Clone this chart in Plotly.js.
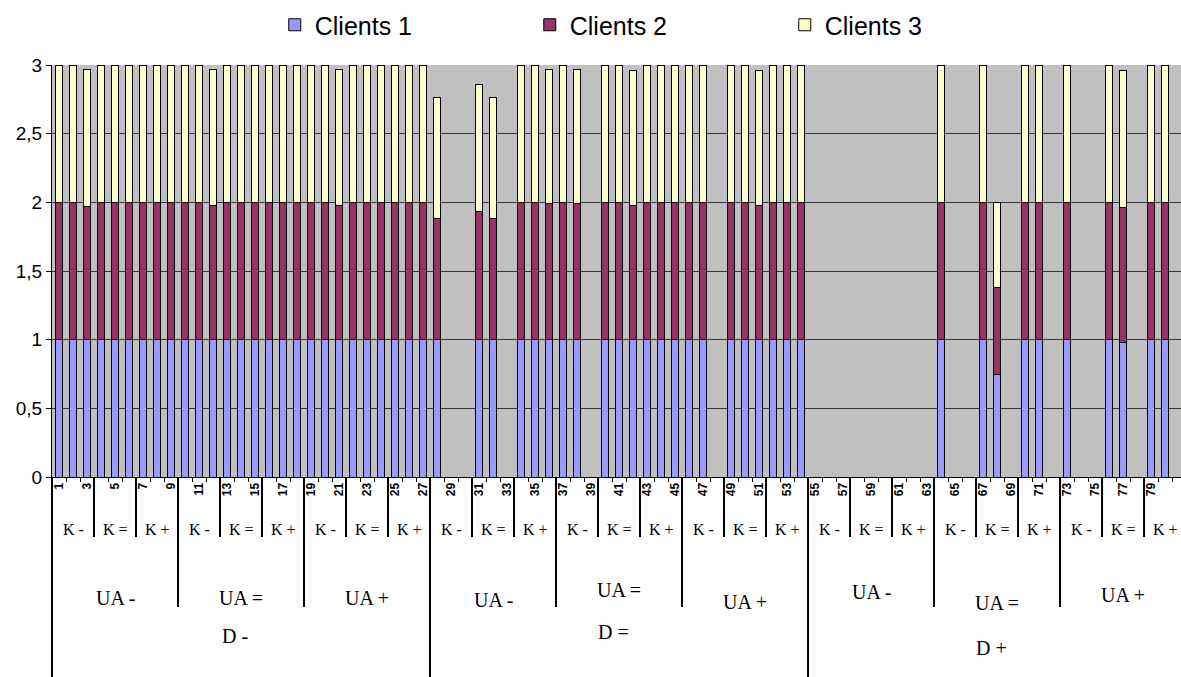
<!DOCTYPE html>
<html>
<head>
<meta charset="utf-8">
<script src="https://cdn.plot.ly/plotly-3.0.1.min.js"></script>
<style>html,body{margin:0;padding:0;background:#fff;}#chart{width:1181px;height:677px;}</style>
</head>
<body>
<div id="chart"></div>
<script>
// ---- data ----
var categories = [1,2,3,4,5,6,7,8,9,10,11,12,13,14,15,16,17,18,19,20,21,22,23,24,25,26,27,
  28,29,30,31,32,33,34,35,36,37,38,39,40,41,42,43,44,45,46,47,48,49,50,51,52,53,54,
  55,56,57,58,59,60,61,62,63,64,65,66,67,68,69,70,71,72,73,74,75,76,77,78,79,80,81];

var clients1 = [1,1,1,1,1,1,1,1,1,1,1,1,1,1,1,1,1,1,1,1,1,1,1,1,1,1,1,
  1,null,null,1,1,null,1,1,1,1,1,null,1,1,1,1,1,1,1,1,null,1,1,1,1,1,1,
  null,null,null,null,null,null,null,null,null,1,null,null,1,0.75,null,1,1,null,1,null,null,1,0.98,null,1,1,null];

var clients2 = [1,1,0.97,1,1,1,1,1,1,1,1,0.98,1,1,1,1,1,1,1,1,0.98,1,1,1,1,1,1,
  0.88,null,null,0.93,0.88,null,1,1,0.99,1,0.99,null,1,1,0.98,1,1,1,1,1,null,1,1,0.98,1,1,1,
  null,null,null,null,null,null,null,null,null,1,null,null,1,0.63,null,1,1,null,1,null,null,1,0.98,null,1,1,null];

var clients3 = [1,1,1,1,1,1,1,1,1,1,1,0.99,1,1,1,1,1,1,1,1,0.99,1,1,1,1,1,1,
  0.88,null,null,0.93,0.88,null,1,1,0.98,1,0.98,null,1,1,0.98,1,1,1,1,1,null,1,1,0.98,1,1,1,
  null,null,null,null,null,null,null,null,null,1,null,null,1,0.62,null,1,1,null,1,null,null,1,1.0,null,1,1,null];

var seriesNames = ['Clients 1','Clients 2','Clients 3'];
var seriesColors = ['#9999FF','#993366','#FFFFCC'];

var tickVals = [1,3,5,7,9,11,13,15,17,19,21,23,25,27,29,31,33,35,37,39,41,43,45,47,49,51,53,55,57,59,61,63,65,67,69,71,73,75,77,79,81];
var tickText = ['1','3','5','7','9','11','13','15','17','19','21','23','25','27','29','31','33','35','37','39','41','43','45','47','49','51','53','55','57','59','61','63','65','67','69','71','73','75','77','79','81'];

var kLabels = ['K -','K =','K +'];
var uaLabels = ['UA -','UA =','UA +'];
var dLabels = ['D -','D =','D +'];

// ---- layout helpers ----
var plotTop = 65, plotBottom = 477;
function py(Y){ return (plotBottom - Y) / (plotBottom - plotTop); }
var serif = 'Liberation Serif, Times New Roman, serif';
var sans = 'Liberation Sans, Arial, sans-serif';

var series = [clients1, clients2, clients3];
var traces = series.map(function(vals, i){
  return {
    type: 'bar', x: categories, y: vals, name: seriesNames[i],
    width: 0.5,
    marker: {color: seriesColors[i], line: {color: '#000', width: 1}},
    hoverinfo: 'x+y+name'
  };
});

var shapes = [];
var annotations = [];
// left border of the category table
shapes.push({type:'line', xref:'paper', yref:'paper', x0:0, x1:0, y0:py(477), y1:py(677), line:{color:'#000', width:2}, layer:'above'});
var nGroups = categories.length / 3;
for (var g = 1; g < nGroups; g++) {
  var xb = 3*g + 0.5;
  var yEnd = (g % 9 === 0) ? 677 : ((g % 3 === 0) ? 607 : 537);
  shapes.push({type:'line', xref:'x', yref:'paper', x0:xb, x1:xb, y0:py(477), y1:py(yEnd), line:{color:'#000', width:2}, layer:'above'});
}
// K labels
for (var g2 = 0; g2 < nGroups; g2++) {
  annotations.push({xref:'x', yref:'paper', x: 3*g2 + 2, y: py(529), text: kLabels[g2 % 3], showarrow:false,
    font:{family: serif, size: 16, color:'#000'}, xanchor:'center', yanchor:'middle'});
}
// UA labels
var uaY = [598,598,598,600,590,602,592,603,595];
for (var u = 0; u < nGroups/3; u++) {
  annotations.push({xref:'x', yref:'paper', x: 9*u + 5, y: py(uaY[u]), text: uaLabels[u % 3], showarrow:false,
    font:{family: serif, size: 20, color:'#000'}, xanchor:'center', yanchor:'middle'});
}
// D labels
var dY = [636,632,648];
for (var d = 0; d < 3; d++) {
  annotations.push({xref:'x', yref:'paper', x: 27*d + 14 - 0.4, y: py(dY[d]), text: dLabels[d], showarrow:false,
    font:{family: serif, size: 20, color:'#000'}, xanchor:'center', yanchor:'middle'});
}

var layout = {
  width: 1181, height: 677,
  margin: {l: 52, r: 0, t: plotTop, b: 677 - plotBottom, pad: 0},
  paper_bgcolor: '#ffffff',
  plot_bgcolor: '#C0C0C0',
  barmode: 'stack',
  separators: ', ',
  showlegend: true,
  legend: {orientation: 'h', x: 0.1973, xanchor: 'left', y: py(2), yanchor: 'top',
    font: {family: sans, size: 25, color: '#000'}, entrywidth: 210, entrywidthmode: 'pixels',
    bgcolor: 'rgba(0,0,0,0)', traceorder: 'normal'},
  xaxis: {
    range: [0.5, 81.14], showgrid: false, zeroline: false,
    tickmode: 'array', tickvals: tickVals, ticktext: tickText, tickangle: -90,
    ticks: '', tickfont: {family: sans, size: 12, color: '#000', weight: 'bold'},
    showline: true, linecolor: '#000', linewidth: 1,
    minor: {tickmode: 'linear', tick0: 0.5, dtick: 1, ticks: 'outside', ticklen: 4, tickcolor: '#000', tickwidth: 1, showgrid: false},
    fixedrange: true
  },
  yaxis: {
    range: [0, 3], dtick: 0.5, tick0: 0,
    showgrid: true, gridcolor: '#333333', gridwidth: 1, zeroline: false,
    ticks: 'outside', ticklen: 5, tickcolor: '#000',
    showline: true, linecolor: '#000', linewidth: 1,
    tickfont: {family: sans, size: 19, color: '#000'},
    fixedrange: true
  },
  shapes: shapes,
  annotations: annotations
};

Plotly.newPlot('chart', traces, layout, {displayModeBar: false, staticPlot: true});
</script>
</body>
</html>
